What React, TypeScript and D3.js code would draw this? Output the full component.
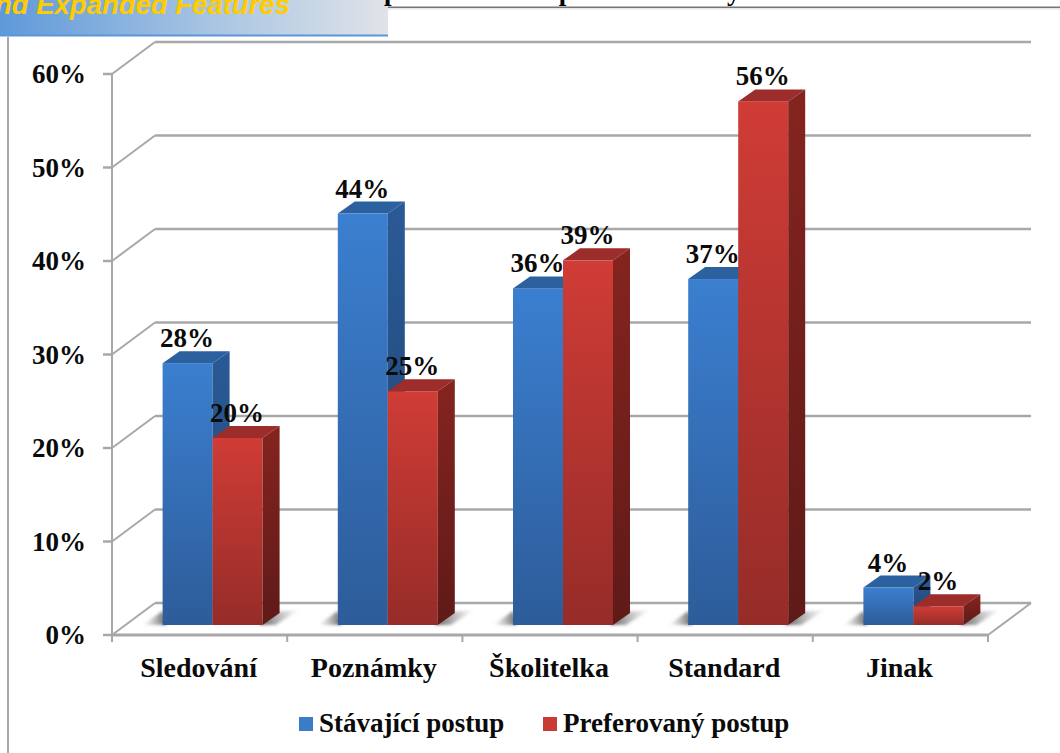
import React from "react";
import * as d3 from "d3";

const categories = ["Sledování", "Poznámky", "Školitelka", "Standard", "Jinak"];
const currentValues = [28, 44, 36, 37, 4];
const preferredValues = [20, 25, 39, 56, 2];
const seriesNames = ["Stávající postup", "Preferovaný postup"];
const yTicks = [0, 10, 20, 30, 40, 50, 60];

const W = 1060;
const H = 753;
const depthX = 43;
const depthY = -32;
const barDepthX = 17;
const barDepthY = -12;
const barWidth = 50;
const serif = "'Liberation Serif', 'Times New Roman', serif";

const y = d3.scaleLinear().domain([0, 60]).range([635, 74]);
const x = d3.scaleBand<string>().domain(categories).range([112, 988]);
const barBase = 625;
const barHeight = (v: number) => y(0) - y(v);

type Palette = { front: string; frontLow: string; top: string; side: string; sideLow: string; id: string };
const bluePalette: Palette = { front: "#3b7fd0", frontLow: "#2d5c99", top: "#2c619f", side: "#2a5a96", sideLow: "#1f4472", id: "b" };
const redPalette: Palette = { front: "#d03c36", frontLow: "#962c28", top: "#9c2d2a", side: "#85241f", sideLow: "#5f1a18", id: "r" };

function Bar({ left, value, pal }: { left: number; value: number; pal: Palette }) {
  const top = barBase - barHeight(value);
  const right = left + barWidth;
  const rx = right + barDepthX;
  const ty = top + barDepthY;
  const by = barBase + barDepthY;
  return (
    <g>
      <rect x={left} y={top} width={barWidth} height={barBase - top} fill={`url(#front-${pal.id})`} />
      <path d={`M${left},${top}L${left + barDepthX},${ty}L${rx},${ty}L${right},${top}Z`} fill={pal.top} />
      <path d={`M${right},${top}L${rx},${ty}L${rx},${by}L${right},${barBase}Z`} fill={`url(#side-${pal.id})`} />
    </g>
  );
}

function BarLabel({ left, value }: { left: number; value: number }) {
  const ty = barBase - barHeight(value) + barDepthY;
  return (
    <text x={left + 24.5} y={ty - 4} fontFamily={serif} fontWeight={700} fontSize={27} textAnchor="middle" fill="#0a0a0a">
      {`${value}%`}
    </text>
  );
}

export default function App() {
  const gridColor = "#a8a8a8";
  return (
    <svg
      width={W}
      height={H}
      viewBox={`0 0 ${W} ${H}`}
      style={{ position: "absolute", left: 0, top: 0, display: "block", background: "#fff" }}
    >
      <defs>
        <linearGradient id="banner" x1="0" x2="1" y1="0" y2="0">
          <stop offset="0" stopColor="#5e99da" />
          <stop offset="0.55" stopColor="#a9c5e2" />
          <stop offset="1" stopColor="#e0e3e8" />
        </linearGradient>
        {[bluePalette, redPalette].map((p) => (
          <React.Fragment key={p.id}>
            <linearGradient id={`front-${p.id}`} x1="0" x2="0" y1="0" y2="1">
              <stop offset="0" stopColor={p.front} />
              <stop offset="1" stopColor={p.frontLow} />
            </linearGradient>
            <linearGradient id={`side-${p.id}`} x1="0" x2="0" y1="0" y2="1">
              <stop offset="0" stopColor={p.side} />
              <stop offset="1" stopColor={p.sideLow} />
            </linearGradient>
          </React.Fragment>
        ))}
        <linearGradient id="shadow" x1="0" x2="1" y1="0" y2="0">
          <stop offset="0" stopColor="#333" stopOpacity="0.85" />
          <stop offset="1" stopColor="#888" stopOpacity="0" />
        </linearGradient>
        <linearGradient id="shadowLeft" x1="1" x2="0" y1="0" y2="0">
          <stop offset="0" stopColor="#333" stopOpacity="0.8" />
          <stop offset="1" stopColor="#888" stopOpacity="0" />
        </linearGradient>
        <filter id="soften" x="-30%" y="-30%" width="160%" height="160%">
          <feGaussianBlur stdDeviation="1.5" />
        </filter>
      </defs>

      {/* Slide header */}
      <rect x={0} y={0} width={388} height={35} fill="url(#banner)" />
      <rect x={0} y={34.5} width={388} height={2} fill="#5a96d8" />
      <text x={-5} y={13.5} fontFamily="'Liberation Sans', Arial, sans-serif" fontStyle="italic" fontWeight={700} fontSize={27.5} fill="#ffcc00">
        nd Expanded Features
      </text>
      <text x={384} y={0} fontFamily={serif} fontWeight={700} fontSize={27} letterSpacing={1.7} fill="#000">
        preferenční opatření druhy akcí
      </text>
      <rect x={388} y={6.5} width={672} height={1.6} fill="#777" />
      <rect x={388} y={8.1} width={672} height={1.5} fill="#e6e6e6" />
      <rect x={7} y={37} width={2} height={716} fill="#a8a8a8" />

      {/* Back wall gridlines with their diagonal returns to the front axis */}
      {yTicks.map((t) => (
        <g key={t} stroke={gridColor} fill="none">
          <line x1={112 + depthX} x2={1031} y1={y(t) + depthY} y2={y(t) + depthY} strokeWidth={2.5} />
          <line x1={112} x2={112 + depthX} y1={y(t)} y2={y(t) + depthY} strokeWidth={2} />
          <line x1={103} x2={112} y1={y(t)} y2={y(t)} strokeWidth={2.5} />
        </g>
      ))}
      <line x1={112} x2={112} y1={y(60)} y2={y(0) + 7} stroke={gridColor} strokeWidth={2} />

      {/* Floor edge */}
      <line x1={112} x2={988} y1={y(0)} y2={y(0)} stroke={gridColor} strokeWidth={3} />
      <line x1={988} x2={1031} y1={y(0)} y2={y(0) + depthY} stroke={gridColor} strokeWidth={2} />
      {categories.map((c) => (
        <line key={c} x1={x(c)!} x2={x(c)!} y1={y(0)} y2={y(0) + 7} stroke={gridColor} strokeWidth={2} />
      ))}
      <line x1={988} x2={988} y1={y(0)} y2={y(0) + 7} stroke={gridColor} strokeWidth={2} />

      {/* Y tick labels */}
      {yTicks.map((t) => (
        <text key={t} x={86} y={y(t) + 9} textAnchor="end" fontFamily={serif} fontWeight={700} fontSize={27} fill="#0a0a0a">
          {`${t}%`}
        </text>
      ))}

      {/* Category groups: shadows and bars first, value labels on top */}
      {categories.map((c, i) => {
        const mid = x(c)! + x.bandwidth() / 2 + 13;
        const blueLeft = mid - barWidth;
        const shadowR = mid + barWidth + barDepthX;
        return (
          <g key={c}>
            <path d={`M${blueLeft - 20},${barBase}L${blueLeft},${barBase - 14}L${blueLeft + 4},${barBase}Z`} fill="url(#shadowLeft)" filter="url(#soften)" />
            <path d={`M${shadowR - barDepthX - 4},${barBase}L${shadowR - 4},${barBase - 13}L${shadowR + 20},${barBase - 15}L${shadowR - 4},${barBase}Z`} fill="url(#shadow)" filter="url(#soften)" />
            <Bar left={blueLeft} value={currentValues[i]} pal={bluePalette} />
            <Bar left={mid} value={preferredValues[i]} pal={redPalette} />
            <text x={x(c)! + x.bandwidth() / 2 - 1} y={677} textAnchor="middle" fontFamily={serif} fontWeight={700} fontSize={28} fill="#0a0a0a">
              {c}
            </text>
          </g>
        );
      })}
      {categories.map((c, i) => {
        const mid = x(c)! + x.bandwidth() / 2 + 13;
        return (
          <g key={c}>
            <BarLabel left={mid - barWidth} value={currentValues[i]} />
            <BarLabel left={mid} value={preferredValues[i]} />
          </g>
        );
      })}

      {/* Legend */}
      <rect x={299} y={717} width={14} height={14} fill="#3b7cc8" />
      <text x={319} y={732} fontFamily={serif} fontWeight={700} fontSize={27} fill="#0a0a0a">
        {seriesNames[0]}
      </text>
      <rect x={543} y={717} width={14} height={14} fill="#c93a35" />
      <text x={563} y={732} fontFamily={serif} fontWeight={700} fontSize={27} fill="#0a0a0a">
        {seriesNames[1]}
      </text>
    </svg>
  );
}
